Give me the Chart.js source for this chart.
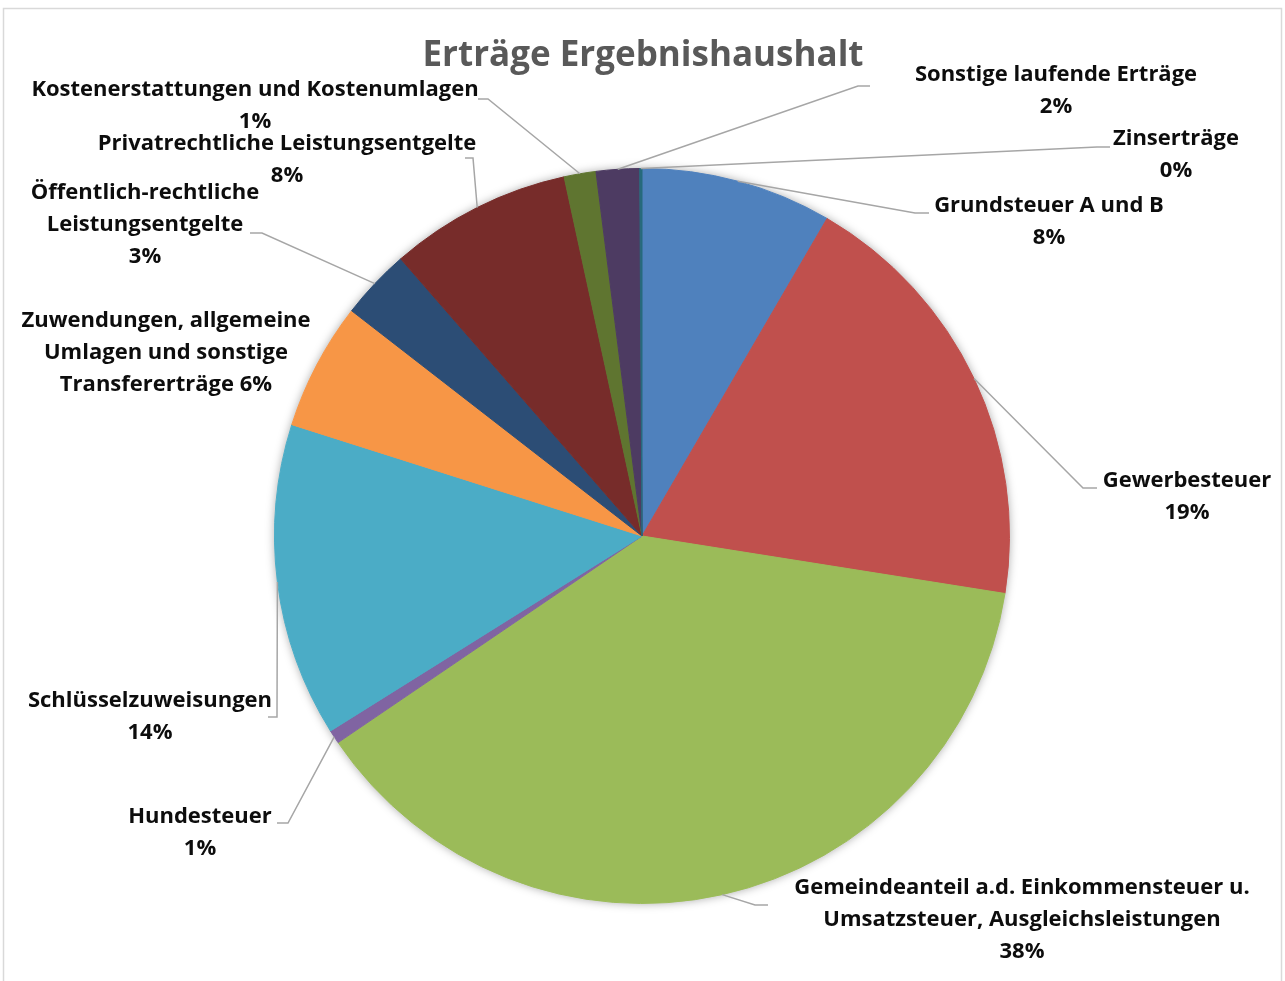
<!DOCTYPE html>
<html>
<head>
<meta charset="utf-8">
<script src="https://cdn.jsdelivr.net/npm/chart.js@4/dist/chart.umd.min.js"></script>
<style>
html,body{margin:0;padding:0;background:#fff;}
canvas{display:block;}
</style>
</head>
<body>
<canvas id="c" width="1285" height="981"></canvas>
<script>
const chartTitle = "Erträge Ergebnishaushalt";
const categories = [
  "Grundsteuer A und B",
  "Gewerbesteuer",
  "Gemeindeanteil a.d. Einkommensteuer u. Umsatzsteuer, Ausgleichsleistungen",
  "Hundesteuer",
  "Schlüsselzuweisungen",
  "Zuwendungen, allgemeine Umlagen und sonstige Transfererträge",
  "Öffentlich-rechtliche Leistungsentgelte",
  "Privatrechtliche Leistungsentgelte",
  "Kostenerstattungen und Kostenumlagen",
  "Sonstige laufende Erträge",
  "Zinserträge"
];
const values = [8.4, 19.1, 38.0, 0.6, 13.8, 5.6, 3.1, 8.0, 1.4, 1.9, 0.1];
const colors = ["#4F81BD","#C0504D","#9BBB59","#8064A2","#4BACC6","#F79646",
                "#2C4D75","#772C2A","#5F7530","#4D3B62","#276A7C"];
const labelLines = [
  ["Grundsteuer A und B", "{p}"],
  ["Gewerbesteuer", "{p}"],
  ["Gemeindeanteil a.d. Einkommensteuer u.", "Umsatzsteuer, Ausgleichsleistungen", "{p}"],
  ["Hundesteuer", "{p}"],
  ["Schlüsselzuweisungen", "{p}"],
  ["Zuwendungen, allgemeine", "Umlagen und sonstige", "Transfererträge {p}"],
  ["Öffentlich-rechtliche", "Leistungsentgelte", "{p}"],
  ["Privatrechtliche Leistungsentgelte", "{p}"],
  ["Kostenerstattungen und Kostenumlagen", "{p}"],
  ["Sonstige laufende Erträge", "{p}"],
  ["Zinserträge", "{p}"]
];

// label layout (text centre x, first line y, leader elbow + end)
const labelLayout = [
  {x:1049, y:206, leader:[[915,213],[929,213]]},
  {x:1187, y:481, leader:[[1083,488],[1097,488]]},
  {x:1022, y:888, leader:[[755,905],[768,905]]},
  {x:200,  y:817, leader:[[288,823],[277,823]]},
  {x:150,  y:701, leader:[[277,717],[268,717]]},
  {x:166,  y:321, leader:null},
  {x:145,  y:193, leader:[[262,233],[250,233]]},
  {x:287,  y:144, leader:[[473,158],[465,158]]},
  {x:255,  y:90,  leader:[[488,99],[478,99]]},
  {x:1056, y:75,  leader:[[858,86],[870,86]]},
  {x:1176, y:139, leader:[[1097,147],[1110,147]]}
];

const LABEL_FONT = 'bold 22px "Open Sans", sans-serif';
const TITLE_FONT = 'bold 35px "Open Sans", sans-serif';
const LINE_H = 32;

const decor = {
  id: 'decor',
  beforeDatasetsDraw(chart) {
    const meta = chart.getDatasetMeta(0);
    const a = meta.data[0];
    const ctx = chart.ctx;
    ctx.save();
    ctx.beginPath();
    ctx.arc(a.x, a.y, a.outerRadius, 0, Math.PI * 2);
    ctx.fillStyle = '#fff';
    ctx.shadowColor = 'rgba(0,0,0,0.35)';
    ctx.shadowBlur = 10;
    ctx.shadowOffsetX = 0;
    ctx.shadowOffsetY = 0;
    ctx.fill();
    ctx.restore();
  },
  afterDraw(chart) {
    const ctx = chart.ctx;
    const meta = chart.getDatasetMeta(0);
    const total = values.reduce((s, v) => s + v, 0);
    ctx.save();
    // frame
    ctx.strokeStyle = '#D9D9D9';
    ctx.lineWidth = 1.5;
    ctx.beginPath();
    ctx.moveTo(3.5, 990);
    ctx.lineTo(3.5, 8.5);
    ctx.lineTo(1281.5, 8.5);
    ctx.lineTo(1281.5, 990);
    ctx.stroke();
    // leader lines
    ctx.strokeStyle = '#A6A6A6';
    ctx.lineWidth = 1.5;
    meta.data.forEach((arc, i) => {
      const L = labelLayout[i];
      if (!L.leader) return;
      const mid = (arc.startAngle + arc.endAngle) / 2;
      const ax = arc.x + Math.cos(mid) * arc.outerRadius;
      const ay = arc.y + Math.sin(mid) * arc.outerRadius;
      ctx.beginPath();
      ctx.moveTo(ax, ay);
      L.leader.forEach(p => ctx.lineTo(p[0], p[1]));
      ctx.stroke();
    });
    // labels
    ctx.font = LABEL_FONT;
    ctx.fillStyle = '#0D0D0D';
    ctx.textAlign = 'center';
    ctx.textBaseline = 'middle';
    labelLines.forEach((lines, i) => {
      const p = Math.round(values[i] / total * 100) + '%';
      const L = labelLayout[i];
      lines.forEach((ln, k) => {
        ctx.fillText(ln.replace('{p}', p), L.x, L.y + k * LINE_H);
      });
    });
    // title
    ctx.font = TITLE_FONT;
    ctx.fillStyle = '#595959';
    ctx.fillText(chartTitle, 643, 56);
    ctx.restore();
  }
};

new Chart(document.getElementById('c'), {
  type: 'pie',
  data: {
    labels: categories,
    datasets: [{
      data: values,
      backgroundColor: colors,
      borderColor: colors,
      borderWidth: 1
    }]
  },
  options: {
    responsive: false,
    animation: false,
    layout: { padding: { top: 168, bottom: 77, left: 274, right: 275 } },
    plugins: {
      legend: { display: false },
      tooltip: { enabled: false },
      title: { display: false }
    }
  },
  plugins: [decor]
});
</script>
</body>
</html>
